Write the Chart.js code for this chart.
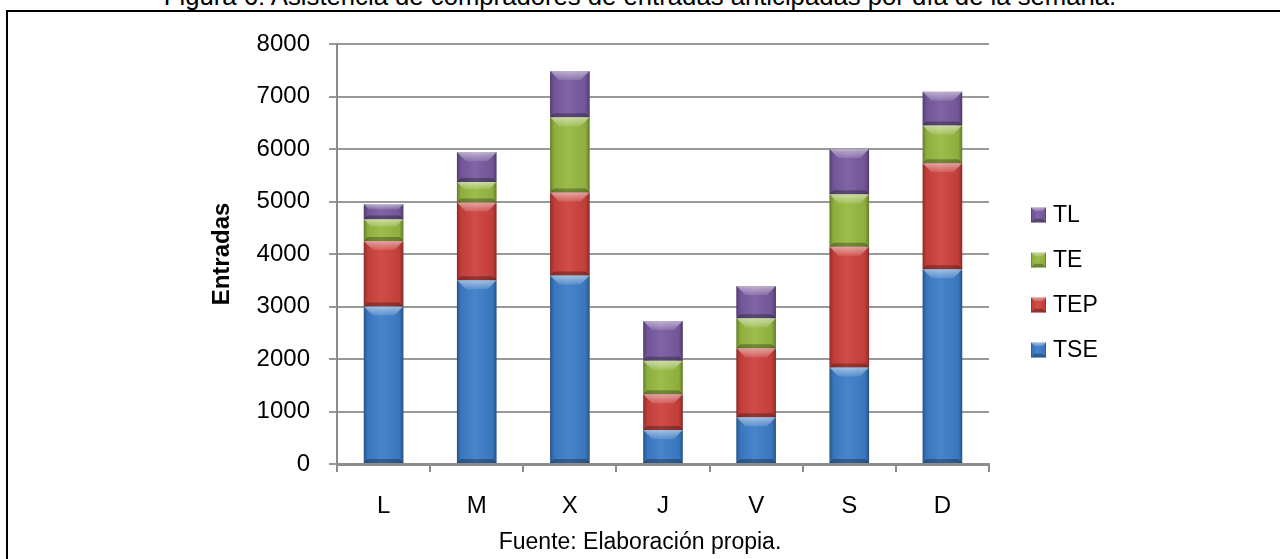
<!DOCTYPE html>
<html lang="es">
<head>
<meta charset="utf-8">
<title>Asistencia por día de la semana</title>
<script src="https://cdn.jsdelivr.net/npm/chart.js@4.4.1/dist/chart.umd.min.js"></script>
<style>
  html, body { margin: 0; padding: 0; background: #fff; }
  body {
    width: 1280px; height: 559px; position: relative; overflow: hidden;
    font-family: 'Liberation Sans', Arial, sans-serif; color: #000;
  }
  .marco {
    position: absolute; left: 6px; top: 10px; width: 1400px; height: 700px;
    border-left: 2px solid #000; border-top: 2px solid #000;
  }
  .figura {
    position: absolute; left: 0; top: -17px; width: 1280px;
    text-align: center; font-size: 25.7px; line-height: 26px; white-space: nowrap;
  }
  .fuente {
    position: absolute; left: 0; top: 530px; width: 1280px;
    text-align: center; font-size: 23px; line-height: 23px; white-space: nowrap;
  }
  #grafico { position: absolute; left: 0; top: 0; }
</style>
</head>
<body>
<div class="figura">Figura 6: Asistencia de compradores de entradas anticipadas por día de la semana.</div>
<div class="marco"></div>
<canvas id="grafico" width="1280" height="559"></canvas>
<div class="fuente">Fuente: Elaboración propia.</div>

<script>
// Días de la semana y entradas vendidas por tipo
const dias = ['L', 'M', 'X', 'J', 'V', 'S', 'D'];
const tse = [3000, 3500, 3590, 650, 890, 1840, 3710];
const tep = [1250, 1480, 1580, 680, 1315, 2300, 2020];
const te  = [410, 390, 1435, 635, 570, 1000, 720];
const tl  = [290, 570, 880, 760, 615, 860, 640];

// Eje Y
const yMin = 0;
const yMax = 8000;
const yPaso = 1000;

const fuente = "'Liberation Sans', Arial, sans-serif";

// Relieve tipo bisel sobre un rectángulo ya pintado
function sombrear(ctx, x0, y0, w, h) {
    let g = ctx.createLinearGradient(x0, 0, x0 + w, 0);
    g.addColorStop(0, 'rgba(0,0,0,0.32)');
    g.addColorStop(0.1, 'rgba(0,0,0,0.06)');
    g.addColorStop(0.45, 'rgba(255,255,255,0.06)');
    g.addColorStop(0.9, 'rgba(0,0,0,0.06)');
    g.addColorStop(1, 'rgba(0,0,0,0.34)');
    ctx.fillStyle = g;
    ctx.fillRect(x0, y0, w, h);

    // bisel superior
    const b = Math.min(9, h / 3, w / 4);
    ctx.beginPath();
    ctx.moveTo(x0, y0);
    ctx.lineTo(x0 + w, y0);
    ctx.lineTo(x0 + w - b, y0 + b);
    ctx.lineTo(x0 + b, y0 + b);
    ctx.closePath();
    g = ctx.createLinearGradient(0, y0, 0, y0 + b);
    g.addColorStop(0, 'rgba(255,255,255,0.5)');
    g.addColorStop(1, 'rgba(255,255,255,0.12)');
    ctx.fillStyle = g;
    ctx.fill();

    // borde inferior oscuro
    const bb = Math.min(4, h / 4);
    ctx.beginPath();
    ctx.moveTo(x0, y0 + h);
    ctx.lineTo(x0 + w, y0 + h);
    ctx.lineTo(x0 + w - bb, y0 + h - bb);
    ctx.lineTo(x0 + bb, y0 + h - bb);
    ctx.closePath();
    ctx.fillStyle = 'rgba(0,0,0,0.28)';
    ctx.fill();
}

const biselBarras = {
    id: 'biselBarras',
    afterDatasetsDraw(chart) {
        const ctx = chart.ctx;
        ctx.save();
        chart.data.datasets.forEach((ds, i) => {
            const meta = chart.getDatasetMeta(i);
            if (meta.hidden) return;
            meta.data.forEach(bar => {
                const p = bar.getProps(['x', 'y', 'base', 'width'], true);
                const top = Math.min(p.y, p.base);
                const h = Math.abs(p.base - p.y);
                sombrear(ctx, p.x - p.width / 2, top, p.width, h);
            });
        });
        ctx.restore();
    }
};

// Leyenda a la derecha, de arriba (TL) a abajo (TSE)
const leyendaLateral = {
    id: 'leyendaLateral',
    afterDraw(chart) {
        const { ctx, chartArea } = chart;
        const x = chartArea.right + 42;
        let y = chartArea.top + 171;
        ctx.save();
        ctx.font = '23px ' + fuente;
        ctx.textBaseline = 'middle';
        [...chart.data.datasets].reverse().forEach(ds => {
            ctx.fillStyle = ds.backgroundColor;
            ctx.fillRect(x, y - 7.5, 15, 15);
            sombrear(ctx, x, y - 7.5, 15, 15);
            ctx.fillStyle = '#000';
            ctx.fillText(ds.label, x + 22, y + 1);
            y += 45;
        });
        ctx.restore();
    }
};

document.addEventListener('DOMContentLoaded', function() {
    const ctx = document.getElementById('grafico').getContext('2d');
    new Chart(ctx, {
        type: 'bar',
        data: {
            labels: dias,
            datasets: [
                { label: 'TSE', data: tse, backgroundColor: '#3C7DC8' },
                { label: 'TEP', data: tep, backgroundColor: '#CD413C' },
                { label: 'TE',  data: te,  backgroundColor: '#96B941' },
                { label: 'TL',  data: tl,  backgroundColor: '#785AA0' }
            ]
        },
        options: {
            responsive: false,
            animation: false,
            devicePixelRatio: 1,
            layout: { padding: { top: 44, right: 291, bottom: 0, left: 0 } },
            datasets: {
                bar: { categoryPercentage: 1, barPercentage: 0.425, borderWidth: 0 }
            },
            plugins: {
                legend: { display: false },
                tooltip: { enabled: false }
            },
            scales: {
                x: {
                    stacked: true,
                    grid: {
                        display: true, drawOnChartArea: false, offset: true,
                        color: '#8c8c8c', lineWidth: 2, tickLength: 8
                    },
                    border: { color: '#8c8c8c', width: 3 },
                    ticks: { color: '#000', font: { size: 24, family: fuente }, padding: 20 },
                    afterFit(scale) { scale.height = 95; }
                },
                y: {
                    stacked: true,
                    min: yMin,
                    max: yMax,
                    ticks: {
                        stepSize: yPaso, color: '#000', padding: 19,
                        font: { size: 24, family: fuente },
                        callback: v => String(v)
                    },
                    grid: { color: '#999', lineWidth: 2, tickLength: 8 },
                    border: { color: '#8c8c8c', width: 2 },
                    title: {
                        display: true, text: 'Entradas', color: '#000',
                        font: { size: 24, weight: 'bold', family: fuente },
                        padding: { top: 208, bottom: 0 }
                    },
                    afterFit(scale) { scale.width = 337; }
                }
            }
        },
        plugins: [biselBarras, leyendaLateral]
    });
});
</script>
</body>
</html>
